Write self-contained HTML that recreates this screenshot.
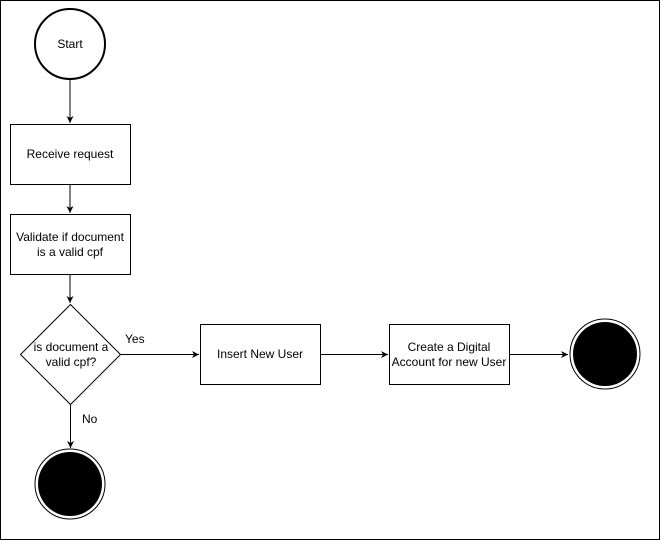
<!DOCTYPE html>
<html><head><style>body{margin:0;background:#fff}svg{display:block}text{font-family:"Liberation Sans",sans-serif;font-size:12px;fill:#000}</style></head><body>
<svg width="661" height="541" viewBox="0 0 661 541">
<defs><marker id="a" markerWidth="8" markerHeight="8" refX="7" refY="4" orient="auto" markerUnits="userSpaceOnUse"><path d="M0,0.5 L7,4 L0,7.5 L2,4 Z" fill="#000"/></marker></defs>
<rect x="0.5" y="0.5" width="659" height="539" fill="#fff" stroke="#000"/>
<circle cx="70" cy="44" r="35" fill="#fff" stroke="#000" stroke-width="2"/>
<text x="70" y="48" text-anchor="middle">Start</text>
<line x1="70" y1="79" x2="70" y2="123" stroke="#000" marker-end="url(#a)"/>
<rect x="10.5" y="124.5" width="120" height="60" fill="#fff" stroke="#000"/>
<text x="70" y="158" text-anchor="middle">Receive request</text>
<line x1="70" y1="185" x2="70" y2="213" stroke="#000" marker-end="url(#a)"/>
<rect x="10.5" y="214.5" width="120" height="60" fill="#fff" stroke="#000"/>
<text x="70" y="241" text-anchor="middle">Validate if document</text>
<text x="70" y="256" text-anchor="middle">is a valid cpf</text>
<line x1="70" y1="275" x2="70" y2="303" stroke="#000" marker-end="url(#a)"/>
<path d="M70.5,304.5 L120.5,354.5 L70.5,404.5 L20.5,354.5 Z" fill="#fff" stroke="#000"/>
<text x="71" y="351" text-anchor="middle">is document a</text>
<text x="71" y="366" text-anchor="middle">valid cpf?</text>
<line x1="121" y1="354.5" x2="199" y2="354.5" stroke="#000" marker-end="url(#a)"/>
<text x="125" y="343">Yes</text>
<line x1="70.5" y1="405" x2="70.5" y2="448" stroke="#000" marker-end="url(#a)"/>
<text x="82" y="423">No</text>
<circle cx="70" cy="484" r="35" fill="#fff" stroke="#000"/>
<circle cx="70" cy="484" r="32" fill="#000"/>
<rect x="200.5" y="324.5" width="120" height="60" fill="#fff" stroke="#000"/>
<text x="260" y="358" text-anchor="middle">Insert New User</text>
<line x1="321" y1="354.5" x2="388" y2="354.5" stroke="#000" marker-end="url(#a)"/>
<rect x="389.5" y="324.5" width="120" height="60" fill="#fff" stroke="#000"/>
<text x="449" y="351" text-anchor="middle">Create a Digital</text>
<text x="449" y="366" text-anchor="middle">Account for new User</text>
<line x1="510" y1="354.5" x2="568" y2="354.5" stroke="#000" marker-end="url(#a)"/>
<circle cx="605" cy="354" r="35" fill="#fff" stroke="#000"/>
<circle cx="605" cy="354" r="32" fill="#000"/>
</svg>
</body></html>
